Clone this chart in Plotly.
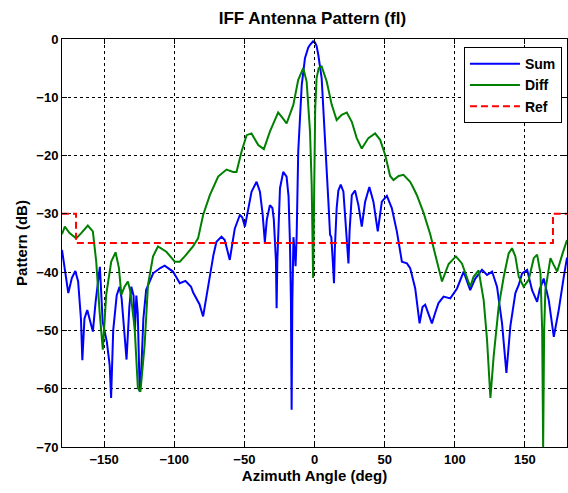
import plotly.graph_objects as go

# ---- data ----
sum_az = [-180, -177.5, -175.5, -173, -170.5, -168.5, -166.5, -165.5, -164, -162, -160, -158, -156, -153,
          -151, -148, -146, -145, -143.5, -141, -139, -137.5, -134, -132, -130.6, -129, -128, -127, -126,
          -124.6, -123.5, -122, -120, -118.7, -115, -110, -106.8, -100.9, -96, -92, -88, -86.5, -82, -79.4,
          -77, -74.6, -72, -69.9, -66.3, -64, -62.7, -60.4, -58.5, -56.8, -53.2, -51.5, -49.6, -47, -44.9,
          -41.3, -38.9, -37, -36, -35.4, -34, -31.8, -30, -29, -27.5, -27, -26.5, -25.5, -24.6, -22.3, -19.9,
          -18.5, -17.5, -16.8, -16.3, -15.8, -15, -14, -13.5, -12.7, -11.6, -9.1, -6.8, -4.5, -3.2, -1, 0.4,
          1.5, 2.7, 5.1, 7.5, 9.9, 11.1, 12, 13, 13.9, 14.5, 15.8, 17, 18.7, 20.6, 22.5, 23.3, 24.2, 25, 26.6,
          28.9, 31.3, 33.7, 36.1, 39.1, 42, 45.1, 48, 51.6, 55.1, 58.7, 62.3, 65.9, 68.2, 71.8, 74.9, 77,
          78.9, 81, 83.7, 86, 88.4, 92, 96.8, 101.6, 106.3, 111, 114.6, 119.4, 123, 126.6, 130.1, 133.7,
          136.8, 139.6, 143.2, 145.6, 148, 151.6, 155.1, 158.7, 160.5, 163.4, 167, 170.6, 174.1, 177.7, 180]
sum_db = [-36.2, -40, -43.6, -41, -39.8, -41.6, -48, -55.1, -48, -46.5, -48.5, -50.2, -45, -39.1,
          -48.5, -52, -56, -61.6, -50, -44, -42.5, -44.5, -55, -46, -42.5, -44, -50, -44, -47,
          -60.5, -57, -48, -43, -42.2, -40.2, -39.3, -38.9, -39.9, -41.9, -41.5, -42.5, -43.5, -45.5, -47.6,
          -44, -40.5, -37, -34.8, -33.9, -34.5, -35.6, -37.9, -35, -32.5, -30.2, -30.6, -32.2, -29, -26.2,
          -24.5, -26.2, -30, -33, -34.8, -31, -28.5, -29, -31, -38, -46.2, -38, -29, -25.6, -22.8, -23.6,
          -27, -34.8, -45, -63.6, -45, -34, -37, -39, -33.6, -19.3, -7.9, -3.3, -1.5, -1.0, -0.4, -0.6,
          -1.2, -2.7, -6.7, -16.5, -27.9, -33.6, -34, -38, -41.9, -36, -29.0, -26, -25.0, -26.2, -32.5, -36, -38.5, -33, -26.8,
          -26.0, -28.5, -32.2, -27.9, -25.4, -27.9, -33.0, -27.9, -26.9, -29.0, -33.0, -38.2, -38.5, -39.3, -42.8, -48.8, -46,
          -45.6, -47, -48.8, -47, -45.3, -44.2, -44.5, -42.8, -39.9, -43.1, -41.1, -39.6, -40.5, -39.9, -42.5, -48.8,
          -57.3, -49.3, -43.6, -42.2, -40.2, -39.6, -43.1, -45.1, -43, -41.1, -44.8, -51.1, -46.5, -40.8, -37.5]

diff_az = [-180, -178, -174.6, -169.9, -166.3, -161.6, -158, -155.6, -153.2, -150.9, -148.5, -144.9, -141.8,
           -139.4, -137.7, -135.4, -133, -131.3, -128.2, -125.9, -124.1, -121.1, -118.7, -115.1, -111.6, -105.6,
           -99.6, -96, -92.5, -86.6, -83, -79.4, -74.6, -68.7, -62.7, -58, -55.6, -52, -48.4, -44.9, -40.1, -36.1,
           -31.8, -25.9, -22, -19.9, -15.1, -11.6, -8, -5.6, -3.2, -2, -1, -0.5, 0, 0.5, 1.5, 3, 5.1, 8.7, 12.3,
           15.8, 19.4, 23, 26.6, 30.1, 33.7, 38.4, 43.2, 46.8, 50.4, 53.9, 56.3, 60, 63.4, 68.2, 70.6, 73, 77.7,
           82.5, 86.1, 89.1, 90.9, 95.6, 100.8, 105.1, 109.9, 111, 113.4, 117, 120.6, 123, 125.4, 127.7, 131.3,
           134.9, 138.4, 140.8, 143.2, 145.6, 149.1, 152.7, 156.3, 158.7, 161.1, 162.3, 163, 163.7, 164.6, 168.2,
           170.6, 173, 176.6, 180]
diff_db = [-33.5, -32.2, -33.3, -34.2, -33.3, -32.0, -33.0, -38.2, -46.8, -53.3, -43.9, -38.2, -36.6,
           -39.3, -43.9, -42.5, -41.6, -43.3, -49.6, -59.9, -60.5, -52.5, -42.2, -37.3, -35.6, -36.5,
           -38.2, -38.2, -37.3, -35.6, -34.2, -30.2, -26.8, -23.6, -22.4, -22.8, -22.8, -19.3, -16.5, -16.2, -18.2, -18.9,
           -15.9, -12.6, -13.8, -14.5, -11.3, -7.0, -5.0, -7.3, -15.9, -25, -41, -30, -20, -12, -6.7, -5.0, -4.7, -7.3, -11.3,
           -13.9, -13.0, -12.6, -14.2, -17.0, -18.8, -17.0, -16.2, -17.3, -19.9, -23.5, -24.2, -23.5, -23.3, -24.5, -25.6, -26.8, -29.8,
           -33.5, -37, -40, -41.6, -38.6, -37.3, -38.5, -41.9, -42.5, -40.8, -39.7, -44.8, -51.6, -61.6, -54.5, -45.9,
           -40.8, -36.8, -35.9, -37.3, -40.8, -42.5, -41.3, -37.6, -37.0, -40.2, -50, -70, -50, -43.1, -37.6,
           -38.8, -39.9, -37, -34.5]

ref_az = [-180, -170, -170, 170, 170, 180]
ref_db = [-30, -30, -35, -35, -30, -30]

x_ticks = [-150, -100, -50, 0, 50, 100, 150]
y_ticks = [0, -10, -20, -30, -40, -50, -60, -70]

FONT = "Liberation Sans, Arial, sans-serif"

fig = go.Figure()
fig.add_trace(go.Scatter(x=sum_az, y=sum_db, mode="lines", name="Sum",
                         line=dict(color="#0000ff", width=2)))
fig.add_trace(go.Scatter(x=diff_az, y=diff_db, mode="lines", name="Diff",
                         line=dict(color="#008000", width=2)))
fig.add_trace(go.Scatter(x=ref_az, y=ref_db, mode="lines", name="Ref",
                         line=dict(color="#ff0000", width=2, dash="7px,4px")))

axis_common = dict(
    showgrid=True, gridcolor="black", gridwidth=1, griddash="3px,3px",
    zeroline=False, showline=True, linecolor="black", linewidth=1, mirror="ticks",
    ticks="inside", ticklen=5, tickcolor="black",
    tickfont=dict(family=FONT, size=13, color="black", weight="bold"),
)

fig.update_layout(
    width=568, height=493,
    margin=dict(l=62, r=1, t=39, b=46),
    paper_bgcolor="white", plot_bgcolor="white",
    title=dict(text="IFF Antenna Pattern (fl)", x=0.55, xanchor="center", y=0.963, yanchor="middle",
               font=dict(family=FONT, size=17, color="black", weight="bold")),
    xaxis=dict(range=[-180, 180], tickvals=x_ticks,
               title=dict(text="Azimuth Angle (deg)", standoff=3,
                          font=dict(family=FONT, size=15, color="black", weight="bold")),
               **axis_common),
    yaxis=dict(range=[-70, 0], tickvals=y_ticks,
               title=dict(text="Pattern (dB)", standoff=5,
                          font=dict(family=FONT, size=15, color="black", weight="bold")),
               **axis_common),
    legend=dict(x=0.99, y=0.98, xanchor="right", yanchor="top", bgcolor="white",
                bordercolor="black", borderwidth=1, itemwidth=50,
                font=dict(family=FONT, size=14, color="black", weight="bold")),
    showlegend=True,
)

fig.write_html(
    "out.html",
    config={"displayModeBar": False},
    post_script="document.body.style.margin='0';document.body.style.overflow='hidden';",
)
